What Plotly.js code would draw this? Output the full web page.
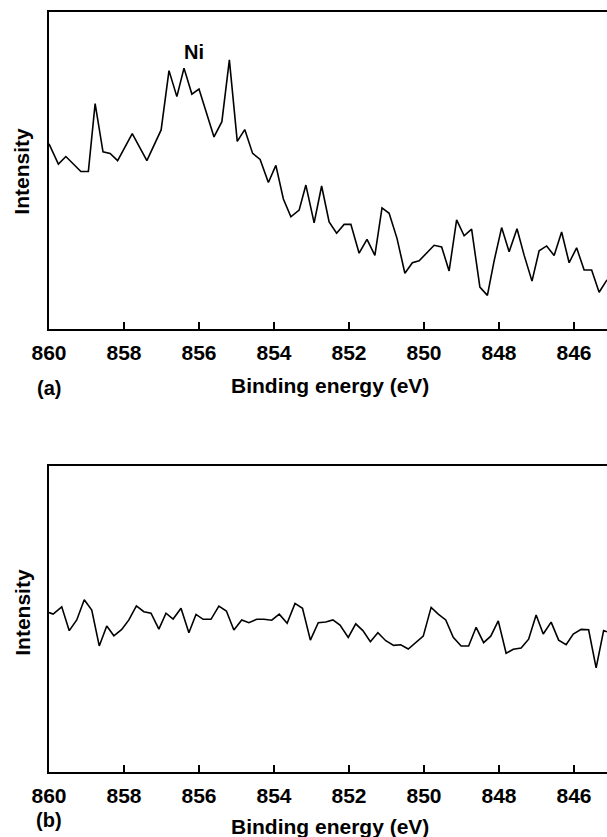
<!DOCTYPE html>
<html>
<head>
<meta charset="utf-8">
<script src="https://cdn.plot.ly/plotly-3.0.1.min.js"></script>
<style>
  html, body { margin: 0; padding: 0; background: #fff; overflow: hidden; }
  #chart { width: 607px; height: 837px; }
</style>
</head>
<body>
<div id="chart"></div>
<script>
// Panel (a): Ni 2p region, sample with nickel signal
const energyA = [
  860.00, 859.75, 859.55, 859.15, 858.95, 858.77, 858.56, 858.37, 858.17, 857.78,
  857.39, 857.01, 856.80, 856.59, 856.40, 856.19, 856.00, 855.60, 855.39, 855.19,
  854.98, 854.78, 854.57, 854.37, 854.15, 853.95, 853.75, 853.55, 853.33, 853.15,
  852.93, 852.73, 852.53, 852.33, 852.13, 851.95, 851.73, 851.52, 851.31, 851.12,
  850.93, 850.72, 850.51, 850.31, 850.13, 849.92, 849.73, 849.53, 849.33, 849.13,
  848.93, 848.73, 848.51, 848.31, 848.13, 847.93, 847.73, 847.52, 847.33, 847.12,
  846.93, 846.73, 846.53, 846.33, 846.13, 845.93, 845.73, 845.53, 845.33, 845.12
];
const intensityA = [
  58.4, 52.0, 54.4, 49.7, 49.7, 71.1, 55.9, 55.4, 53.1, 61.6,
  53.1, 62.8, 81.5, 73.3, 82.3, 74.1, 75.7, 60.6, 65.4, 84.9,
  59.2, 62.9, 55.4, 53.5, 46.2, 51.6, 41.0, 35.4, 37.5, 45.4,
  33.5, 45.1, 33.8, 30.2, 33.0, 33.0, 23.9, 28.3, 23.2, 38.2,
  36.5, 28.6, 17.6, 20.9, 21.5, 24.2, 26.4, 25.9, 18.3, 34.4,
  29.4, 31.5, 13.2, 10.6, 21.5, 32.0, 24.4, 31.6, 23.3, 15.1,
  24.7, 26.2, 23.2, 30.6, 20.9, 25.6, 18.6, 18.6, 11.6, 15.5
];

// Panel (b): same region, no nickel signal
const energyB = [
  860.00, 859.89, 859.66, 859.46, 859.26, 859.06, 858.86, 858.66, 858.46, 858.27,
  858.06, 857.87, 857.67, 857.47, 857.28, 857.07, 856.88, 856.69, 856.48, 856.27,
  856.08, 855.89, 855.68, 855.47, 855.27, 855.07, 854.86, 854.67, 854.46, 854.27,
  854.06, 853.86, 853.65, 853.44, 853.24, 853.03, 852.82, 852.62, 852.43, 852.24,
  852.02, 851.82, 851.63, 851.43, 851.23, 851.02, 850.81, 850.62, 850.42, 850.21,
  850.02, 849.81, 849.62, 849.42, 849.22, 849.01, 848.81, 848.61, 848.41, 848.22,
  848.02, 847.81, 847.62, 847.41, 847.21, 847.01, 846.82, 846.61, 846.41, 846.21,
  846.02, 845.81, 845.61, 845.41, 845.21, 845.12
];
const intensityB = [
  52.1, 51.6, 54.0, 46.2, 49.7, 56.3, 52.9, 41.2, 47.7, 44.5,
  46.6, 49.7, 54.3, 52.4, 51.9, 46.7, 51.9, 50.0, 53.5, 45.5,
  51.5, 49.9, 49.9, 54.2, 52.6, 46.4, 49.7, 48.8, 49.9, 49.9,
  49.6, 51.6, 48.6, 55.1, 53.5, 43.1, 48.8, 49.0, 49.7, 48.0,
  44.0, 48.4, 46.2, 42.6, 45.5, 42.9, 41.4, 41.6, 40.2, 42.3,
  44.4, 53.8, 51.6, 49.7, 44.0, 41.2, 41.2, 47.3, 42.3, 44.4,
  49.4, 38.8, 40.1, 40.5, 43.4, 51.3, 45.1, 49.0, 43.1, 41.6,
  45.1, 46.6, 46.5, 34.0, 46.2, 45.8
];

const tickValues = [860, 858, 856, 854, 852, 850, 848, 846];
const tickLabels = ['860', '858', '856', '854', '852', '850', '848', '846'];

const peakLabel = 'Ni';
const peakEnergy = 856.13;
const peakLabelHeight = 87.4;

const FONT = '"Liberation Sans", Arial, Helvetica, sans-serif';
const INK = '#000';

const lineStyle = { color: INK, width: 1.6 };

const traces = [
  { x: energyA, y: intensityA, xaxis: 'x', yaxis: 'y', type: 'scatter', mode: 'lines',
    line: lineStyle, hoverinfo: 'skip' },
  { x: energyB, y: intensityB, xaxis: 'x2', yaxis: 'y2', type: 'scatter', mode: 'lines',
    line: lineStyle, hoverinfo: 'skip' }
];

function energyAxis(anchor) {
  return {
    anchor: anchor,
    domain: [0, 1],
    range: [860, 845.12],
    tickmode: 'array',
    tickvals: tickValues,
    ticktext: tickLabels,
    ticks: 'inside',
    ticklen: 7,
    tickwidth: 2,
    tickcolor: INK,
    showline: true,
    linewidth: 2,
    linecolor: INK,
    mirror: true,
    showgrid: false,
    zeroline: false,
    ticklabelstandoff: 4,
    tickfont: { family: FONT, size: 21, color: INK, weight: 'bold' }
  };
}

function intensityAxis(anchor, domain) {
  return {
    anchor: anchor,
    domain: domain,
    range: [0, 100],
    showticklabels: false,
    ticks: '',
    showline: true,
    linewidth: 2,
    linecolor: INK,
    showgrid: false,
    zeroline: false
  };
}

const textFont = { family: FONT, size: 21, color: INK, weight: 'bold' };
const smallFont = { family: FONT, size: 20, color: INK, weight: 'bold' };

function label(text, x, y, extra) {
  return Object.assign({
    text: text, x: x, y: y, xref: 'paper', yref: 'paper',
    showarrow: false, font: textFont, xanchor: 'center', yanchor: 'middle'
  }, extra || {});
}

const layout = {
  width: 607,
  height: 837,
  margin: { l: 49, r: 0, t: 12, b: 65 },
  paper_bgcolor: '#fff',
  plot_bgcolor: '#fff',
  showlegend: false,
  xaxis: energyAxis('y'),
  yaxis: intensityAxis('x', [0.5829, 1]),
  xaxis2: energyAxis('y2'),
  yaxis2: intensityAxis('x2', [0, 0.4026]),
  annotations: [
    { text: peakLabel, x: peakEnergy, y: peakLabelHeight, xref: 'x', yref: 'y',
      showarrow: false, font: smallFont },
    label('Intensity', -0.0489, 0.7908, { textangle: -90 }),
    label('Intensity', -0.0489, 0.2105, { textangle: -90 }),
    label('Binding energy (eV)', 0.5036, 0.5829, { yshift: -57 }),
    label('Binding energy (eV)', 0.5036, 0, { yshift: -54 }),
    label('(a)', -0.0004, 0.5829, { yshift: -59, font: smallFont }),
    label('(b)', 0.0, 0, { yshift: -48, font: smallFont })
  ]
};

Plotly.newPlot('chart', traces, layout, { staticPlot: true, displayModeBar: false });
</script>
</body>
</html>
